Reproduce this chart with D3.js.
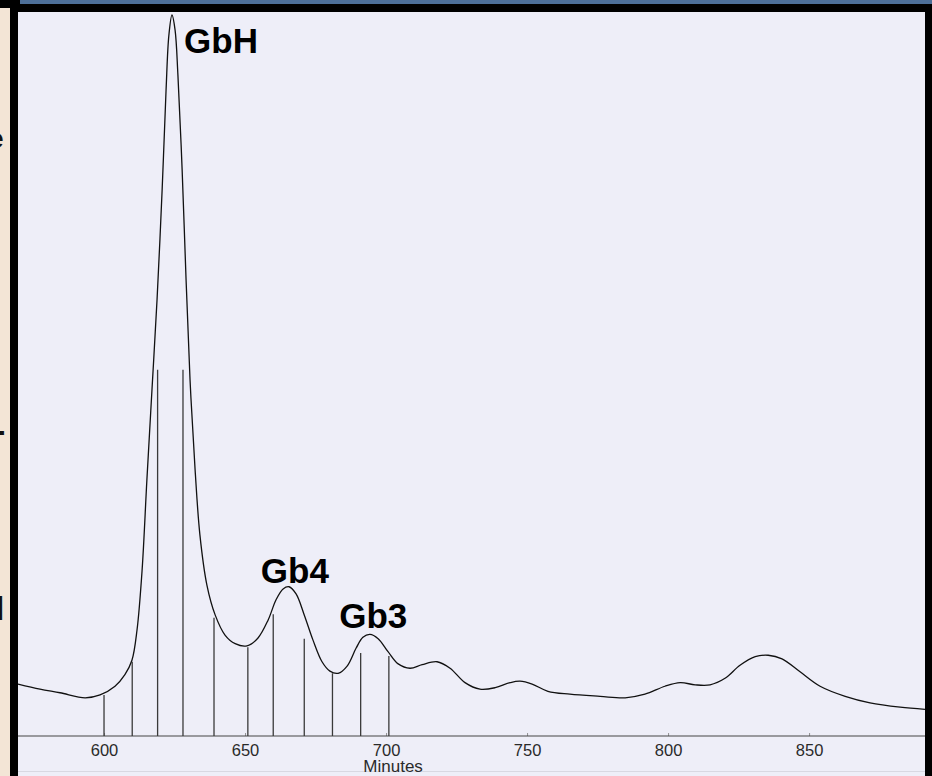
<!DOCTYPE html>
<html>
<head>
<meta charset="utf-8">
<script src="https://cdn.jsdelivr.net/npm/d3@7"></script>
<style>
  html, body { margin: 0; padding: 0; background: #000; }
  svg { display: block; }
</style>
</head>
<body>
<svg id="chart" width="932" height="776"></svg>
<script>
// chromatogram trace (minutes, relative signal)
var traceMinutes = [569.5, 577.3, 584.4, 593.3, 598.6, 603.9, 607.4, 609.9, 611.7, 613.5,
  615.2, 617.0, 618.8, 620.6, 622.0, 623.0, 624.1, 625.2, 626.2, 627.7,
  629.1, 630.5, 632.3, 634.0, 636.5, 639.4, 642.9, 646.5, 650.7, 654.6,
  658.2, 661.0, 663.5, 665.6, 668.1, 670.9, 674.1, 677.3, 680.1, 683.0,
  686.2, 689.4, 691.8, 694.3, 697.2, 700.7, 704.3, 708.5, 712.8, 718.1,
  722.7, 728.0, 733.3, 738.7, 744.0, 747.5, 751.8, 757.4, 765.2, 775.9,
  784.8, 791.8, 798.9, 804.3, 809.6, 814.9, 820.2, 825.5, 830.9, 835.5,
  840.4, 846.8, 853.9, 862.8, 871.6, 882.3, 891.1];
var traceSignal = [7.2, 6.5, 6.0, 5.3, 5.7, 6.9, 8.5, 10.5, 14.7, 23.0,
  35.5, 48.0, 60.5, 75.7, 89.6, 97.2, 100, 97.9, 91.7, 78.5,
  63.2, 49.4, 36.9, 27.9, 20.9, 16.8, 14.0, 12.8, 12.5, 13.6,
  16.1, 18.9, 20.4, 20.7, 19.7, 16.9, 13.3, 10.3, 9.0, 8.7,
  9.7, 12.2, 13.7, 14.1, 13.5, 11.7, 10.0, 9.4, 9.9, 10.3,
  9.4, 7.4, 6.5, 6.7, 7.4, 7.6, 7.2, 6.2, 5.8, 5.5,
  5.3, 5.8, 6.9, 7.4, 7.1, 7.1, 8.0, 9.8, 11.0, 11.2,
  10.7, 8.9, 6.9, 5.5, 4.6, 4.0, 3.7];

// fraction cut marks
var cutMinutes = [600, 610, 619, 628, 639, 651, 660, 671, 681, 691, 701];
var cutHeights = [5.7, 10.3, 50.8, 50.8, 16.4, 12.3, 16.9, 13.5, 8.7, 11.5, 11.1];

// peak labels
var peakNames = ["GbH", "Gb4", "Gb3"];
var peakMinutes = [628.4, 655.6, 683.4];
var peakSignal = [94.7, 21.2, 15.0];

var tickValues = [600, 650, 700, 750, 800, 850];

var svg = d3.select("#chart");
var W = 932, H = 776;
var padL = 18, padR = 925, padT = 12, padB = 776;

// frame pieces from the slide around the scan
svg.append("rect").attr("x", 0).attr("y", 0).attr("width", W).attr("height", H).attr("fill", "#000");
svg.append("rect").attr("x", 20).attr("y", 0).attr("width", W - 20).attr("height", 4).attr("fill", "#4d6f98");
svg.append("rect").attr("x", 0).attr("y", 8).attr("width", 10).attr("height", H - 8).attr("fill", "#f3e5d6");

svg.append("rect").attr("x", padL).attr("y", padT).attr("width", padR - padL).attr("height", padB - padT)
    .attr("fill", "#eeeef8");
svg.append("line").attr("x1", padL).attr("x2", padR).attr("y1", 771.5).attr("y2", 771.5)
    .attr("stroke", "#d8d8e2").attr("stroke-width", 1);

// clipped bits of text from the neighbouring panel
svg.append("clipPath").attr("id", "sideClip")
  .append("rect").attr("x", 0).attr("y", 0).attr("width", 10).attr("height", H);
var side = svg.append("g").attr("clip-path", "url(#sideClip)")
    .attr("font-family", "Liberation Sans, Arial, sans-serif").attr("font-weight", "bold")
    .attr("fill", "#111");
side.append("text").attr("x", -12).attr("y", 148).attr("font-size", 28).text("e");
side.append("text").attr("x", -6).attr("y", 442).attr("font-size", 34).text("-");
side.append("text").attr("x", -5).attr("y", 620).attr("font-size", 34).text("l");

var x = d3.scaleLinear().domain([569.5, 891.1]).range([padL, padR]);
var y = d3.scaleLinear().domain([0, 100]).range([736, 15]);

svg.append("clipPath").attr("id", "plotClip")
  .append("rect").attr("x", padL).attr("y", padT).attr("width", padR - padL).attr("height", padB - padT);
var plot = svg.append("g").attr("clip-path", "url(#plotClip)");

// baseline axis
var axis = d3.axisBottom(x).tickValues(tickValues).tickSize(4).tickPadding(4).tickFormat(d3.format("d"));
var gx = plot.append("g").attr("transform", "translate(0," + y(0) + ")").call(axis);
gx.select(".domain").remove();
gx.selectAll(".tick line").attr("stroke", "#777").attr("stroke-width", 0.8).attr("y1", -3).attr("y2", 0);
gx.selectAll(".tick text").attr("fill", "#2a2a2a").attr("font-size", 16.5)
    .attr("font-family", "Liberation Sans, Arial, sans-serif");
plot.append("line").attr("x1", padL).attr("x2", padR).attr("y1", y(0)).attr("y2", y(0))
    .attr("stroke", "#444").attr("stroke-width", 1.1);
plot.append("text").attr("x", x(702.5)).attr("y", 772).attr("text-anchor", "middle")
    .attr("fill", "#2a2a2a").attr("font-size", 17)
    .attr("font-family", "Liberation Sans, Arial, sans-serif").text("Minutes");

// cut marks
plot.selectAll(".cut").data(cutMinutes).enter().append("line")
    .attr("class", "cut")
    .attr("x1", function(d){ return x(d); })
    .attr("x2", function(d){ return x(d); })
    .attr("y1", y(0))
    .attr("y2", function(d, i){ return y(cutHeights[i]); })
    .attr("stroke", "#3a3a3a").attr("stroke-width", 1.3);

// trace
var pts = traceMinutes.map(function(m, i){ return [m, traceSignal[i]]; });
var line = d3.line()
    .x(function(d){ return x(d[0]); })
    .y(function(d){ return y(d[1]); })
    .curve(d3.curveCatmullRom.alpha(0.5));
plot.append("path").datum(pts).attr("d", line)
    .attr("fill", "none").attr("stroke", "#111").attr("stroke-width", 1.3);

// peak names
plot.selectAll(".peak").data(peakNames).enter().append("text")
    .attr("class", "peak")
    .attr("x", function(d, i){ return x(peakMinutes[i]); })
    .attr("y", function(d, i){ return y(peakSignal[i]); })
    .attr("font-family", "Liberation Sans, Arial, sans-serif")
    .attr("font-weight", "bold").attr("font-size", 35).attr("fill", "#000")
    .text(function(d){ return d; });
</script>
</body>
</html>
